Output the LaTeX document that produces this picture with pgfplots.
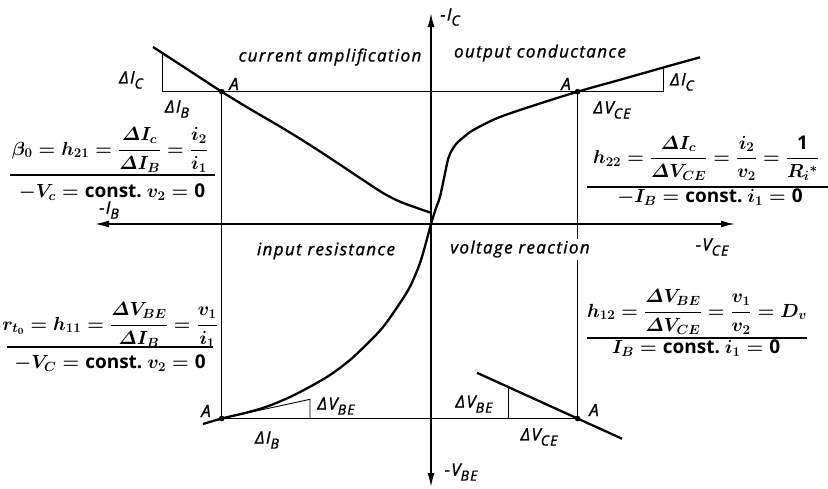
\RequirePackage{fix-cm}
\documentclass[border=0pt]{standalone}
\usepackage{amsmath}
\usepackage{fontspec}
\setmainfont{Open Sans}
\newfontfamily\lblfam{Open Sans}[FakeBold=1.2, LetterSpace=8]
\usepackage{pgfplots}
\pgfplotsset{compat=1.18}
\usetikzlibrary{arrows.meta}

% label and formula fonts
\newcommand{\lblfont}{\fontsize{17}{20}\lblfam\itshape}
\newcommand{\fmlfont}{\fontsize{19}{22}\selectfont\boldmath}
\newcommand{\sub}[1]{\raisebox{-0.3em}{\fontsize{14}{16}\selectfont #1}}

\pgfplotsset{
  curve/.style={black, line width=2.3pt, no markers},
  guide/.style={black, line width=0.9pt, no markers},
  rule/.style={black, line width=1.3pt, no markers},
  axisline/.style={black, line width=1.6pt, no markers},
}
\tikzset{
  lbl/.style={font=\lblfont, inner sep=0pt, anchor=center},
  fml/.style={font=\fmlfont, inner sep=0pt, anchor=center},
}

\begin{document}
\begin{tikzpicture}
\begin{axis}[
  hide axis, scale only axis,
  width=828pt, height=488pt,
  xmin=0, xmax=828, ymin=0, ymax=488,
  y dir=reverse, clip=false,
]
\coordinate (bbsw) at (axis cs:0,488);
\coordinate (bbne) at (axis cs:828,0);

% guide lines through the working points A
\addplot[guide] coordinates {(162.3,91.7) (663.3,91.7)};
\addplot[guide] coordinates {(162.3,53.1) (162.3,91.7)};
\addplot[guide] coordinates {(663.3,67.5) (663.3,91.7)};
\addplot[guide] coordinates {(221.7,91.7) (221.7,418.5)};
\addplot[guide] coordinates {(577.5,91.7) (577.5,418.5)};
\addplot[guide] coordinates {(221.7,418.5) (577.5,418.5)};
\addplot[guide] coordinates {(221.7,418.5) (310,399.3) (310,418.5)};
\addplot[guide] coordinates {(508,386.9) (508,418.5)};

% formula rules
\addplot[rule] coordinates {(10,175) (215,175)};
\addplot[rule] coordinates {(587,187) (828,187)};
\addplot[rule] coordinates {(7,347) (213,347)};
\addplot[rule] coordinates {(587,338) (807,338)};

% axes
\addplot[axisline, {Latex[length=14pt,width=7pt]}-{Latex[length=14pt,width=7pt]}]
  coordinates {(95,224) (735,224)};
\addplot[axisline, {Latex[length=14pt,width=7pt]}-{Latex[length=14pt,width=7pt]}]
  coordinates {(431,13) (431,487)};

% quadrant texts
\node[lbl] at (330,57) {current amplification};
\node[lbl] at (540,53) {output conductance};
\node[lbl] at (326,251) {input resistance};
\node[lbl, fill=white, inner sep=2pt] at (520,249) {voltage reaction};

% axis labels
\node[lbl] at (450,17) {-I\sub{C}};
\node[lbl] at (109,210) {-I\sub{B}};
\node[lbl] at (712,247) {-V\sub{CE}};
\node[lbl] at (461,472) {-V\sub{BE}};

% increments and working points
\node[lbl] at (131,80) {ΔI\sub{C}};
\node[lbl] at (234,84) {A};
\node[lbl] at (177,109) {ΔI\sub{B}};
\node[lbl] at (566,84) {A};
\node[lbl] at (682,82) {ΔI\sub{C}};
\node[lbl] at (612,110) {ΔV\sub{CE}};
\node[lbl] at (206,411) {A};
\node[lbl] at (336,406) {ΔV\sub{BE}};
\node[lbl] at (267,440) {ΔI\sub{B}};
\node[lbl] at (474,404) {ΔV\sub{BE}};
\node[lbl] at (539,437) {ΔV\sub{CE}};
\node[lbl] at (594,410) {A};

% h-parameter definitions
\node[fml] at (110,150) {$\beta_0 = h_{21} = \dfrac{\varDelta I_c}{\varDelta I_B} = \dfrac{i_2}{i_1}$};
\node[fml] at (112,192) {$-V_c = {}$\textbf{const.}\ $v_2 = {}$\textbf{0}};
\node[fml] at (706,158) {$h_{22} = \dfrac{\varDelta I_c}{\varDelta V_{CE}} = \dfrac{i_2}{v_2} = \dfrac{\textbf{1}}{R_i{}^*}$};
\node[fml] at (710,197) {$-I_B = {}$\textbf{const.}\ $i_1 = {}$\textbf{0}};
\node[fml] at (110,325) {$r_{t_0} = h_{11} = \dfrac{\varDelta V_{BE}}{\varDelta I_B} = \dfrac{v_1}{i_1}$};
\node[fml] at (110,363) {$-V_C = {}$\textbf{const.}\ $v_2 = {}$\textbf{0}};
\node[fml] at (697,312) {$h_{12} = \dfrac{\varDelta V_{BE}}{\varDelta V_{CE}} = \dfrac{v_1}{v_2} = D_v$};
\node[fml] at (696,348) {$I_B = {}$\textbf{const.}\ $i_1 = {}$\textbf{0}};

% current amplification characteristic
\addplot[curve, smooth, tension=0.5] coordinates {
  (153,47) (190,71) (221.7,91.7) (250,109) (283,128.3) (310,145)
  (333,160) (360,178) (383,193) (400,201.7) (420,209) (430.7,212.7)};

% input and output characteristics
\addplot[curve, smooth, tension=0.5] coordinates {
  (203,424) (221.7,418.5) (245,413) (266.7,406.7) (290,397) (310,386.7)
  (330,375) (350,360) (370,341) (383.3,326.7) (398,306) (410,286.7)
  (420,263) (426.7,240) (431,224) (436,208) (440,196.7) (445,173.3)
  (448.3,158.3) (452,150) (456.7,143.3) (465,136) (473.3,130)
  (496.7,118.3) (530,106.7) (577.5,91.7) (620,79.8) (663.3,67.5) (700,57.3)};

% voltage reaction characteristic
\addplot[curve] coordinates {(477,372.8) (577.5,418.5) (622,438.7)};

% working points
\addplot[only marks, mark=*, mark size=2.6pt, black] coordinates {
  (221.7,91.7) (577.5,91.7) (221.7,418.5) (577.5,418.5)};
\end{axis}
\pgfresetboundingbox
\useasboundingbox (bbsw) rectangle (bbne);
\end{tikzpicture}
\end{document}
